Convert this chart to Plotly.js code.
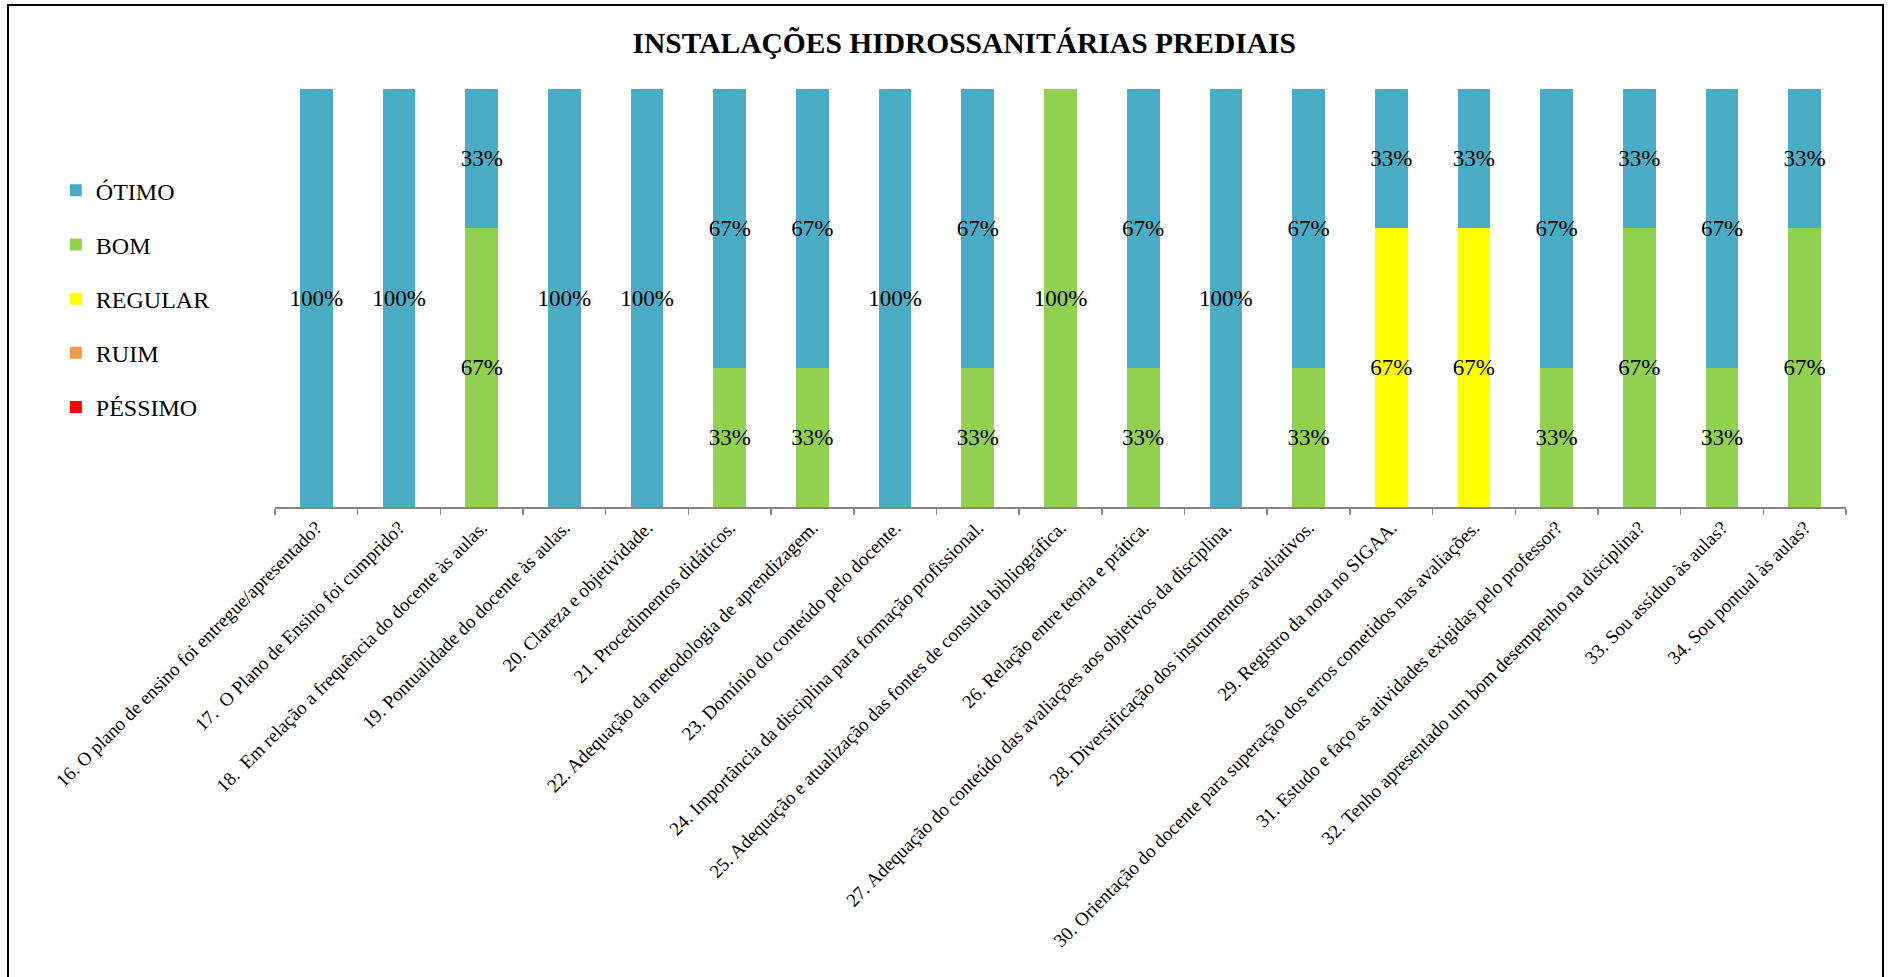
<!DOCTYPE html>
<html>
<head>
<meta charset="utf-8">
<script src="https://cdn.plot.ly/plotly-3.0.1.min.js"></script>
<style>
  html, body { margin: 0; padding: 0; width: 1890px; height: 977px; overflow: hidden; background: #fff; }
  #frame { position: absolute; left: 7px; top: 4px; width: 1877px; height: 1000px; border: 2px solid #000; box-sizing: border-box; }
  #chart { position: absolute; left: 0; top: 0; width: 1873px; height: 971px; }
</style>
</head>
<body>
<div id="frame"><div id="chart"></div></div>
<script>
const categories = [
  "16. O plano de ensino foi entregue/apresentado?",
  "17.  O Plano de Ensino foi cumprido?",
  "18.  Em relação a frequência do docente às aulas.",
  "19. Pontualidade do docente às aulas.",
  "20. Clareza e objetividade.",
  "21. Procedimentos didáticos.",
  "22. Adequação da metodologia de aprendizagem.",
  "23. Domínio do conteúdo pelo docente.",
  "24. Importância da disciplina para formação profissional.",
  "25. Adequação e atualização das fontes de consulta bibliográfica.",
  "26. Relação entre teoria e prática.",
  "27. Adequação do conteúdo das avaliações aos objetivos da disciplina.",
  "28. Diversificação dos instrumentos avaliativos.",
  "29. Registro da nota no SIGAA.",
  "30. Orientação do docente para superação dos erros cometidos nas avaliações.",
  "31. Estudo e faço as atividades exigidas pelo professor?",
  "32. Tenho apresentado um bom desempenho na disciplina?",
  "33. Sou assíduo às aulas?",
  "34. Sou pontual às aulas?"
];

const pessimo = [0,0,0,0,0,0,0,0,0,0,0,0,0,0,0,0,0,0,0];
const ruim    = [0,0,0,0,0,0,0,0,0,0,0,0,0,0,0,0,0,0,0];
const regular = [0,0,0,0,0,0,0,0,0,0,0,0,0,0.6667,0.6667,0,0,0,0];
const bom     = [0,0,0.6667,0,0,0.3333,0.3333,0,0.3333,1,0.3333,0,0.3333,0,0,0.3333,0.6667,0.3333,0.6667];
const otimo   = [1,1,0.3333,1,1,0.6667,0.6667,1,0.6667,0,0.6667,1,0.6667,0.3333,0.3333,0.6667,0.3333,0.6667,0.3333];

// stacking order, bottom to top
const seriesNames = ["PÉSSIMO", "RUIM", "REGULAR", "BOM", "ÓTIMO"];
const seriesValues = [pessimo, ruim, regular, bom, otimo];
const seriesColors = ["#FF0000", "#F79646", "#FFFF00", "#92D050", "#4BACC6"];

const FONT = "Liberation Serif";

const traces = seriesNames.map((name, i) => ({
  type: "bar",
  name: name,
  x: categories,
  y: seriesValues[i],
  legendgroup: name,
  legendrank: 1000 + (seriesNames.length - i),
  marker: { color: seriesColors[i], line: { width: 0 } },
  text: seriesValues[i].map(v => v > 0 ? Math.round(v * 100) + "%" : ""),
  textposition: "inside",
  insidetextanchor: "middle",
  textangle: 0,
  constraintext: "none",
  textfont: { family: FONT, size: 23, color: "#000" },
  insidetextfont: { family: FONT, size: 23, color: "#000" },
  hoverinfo: "skip"
}));

const layout = {
  width: 1873,
  height: 971,
  margin: { l: 266, r: 36, t: 83, b: 470, autoexpand: false },
  paper_bgcolor: "#fff",
  plot_bgcolor: "#fff",
  barmode: "stack",
  bargap: 0.605,
  showlegend: true,
  font: { family: FONT },
  title: {
    text: "<b>INSTALAÇÕES HIDROSSANITÁRIAS PREDIAIS</b>",
    font: { family: FONT, size: 29.5, color: "#000" },
    xref: "container", x: 0.51, xanchor: "center",
    yref: "container", y: 0.962, yanchor: "middle"
  },
  legend: {
    xref: "container", x: 0.025, xanchor: "left",
    yref: "container", y: 0.833, yanchor: "top",
    traceorder: "grouped",
    tracegroupgap: 20,
    font: { family: FONT, size: 24, color: "#000" },
    bgcolor: "rgba(0,0,0,0)",
    borderwidth: 0
  },
  xaxis: {
    type: "category",
    automargin: false,
    showline: true, linecolor: "#868686", linewidth: 2,
    ticks: "outside", tickson: "boundaries", ticklen: 6, tickwidth: 1.5, tickcolor: "#868686",
    tickangle: -45,
    tickfont: { family: FONT, size: 19, color: "#000" },
    showgrid: false, zeroline: false, fixedrange: true
  },
  yaxis: {
    range: [0, 1],
    visible: false,
    showgrid: false, zeroline: false, showline: false, showticklabels: false, fixedrange: true
  }
};

Plotly.newPlot("chart", traces, layout, { displayModeBar: false, staticPlot: true });
</script>
</body>
</html>
